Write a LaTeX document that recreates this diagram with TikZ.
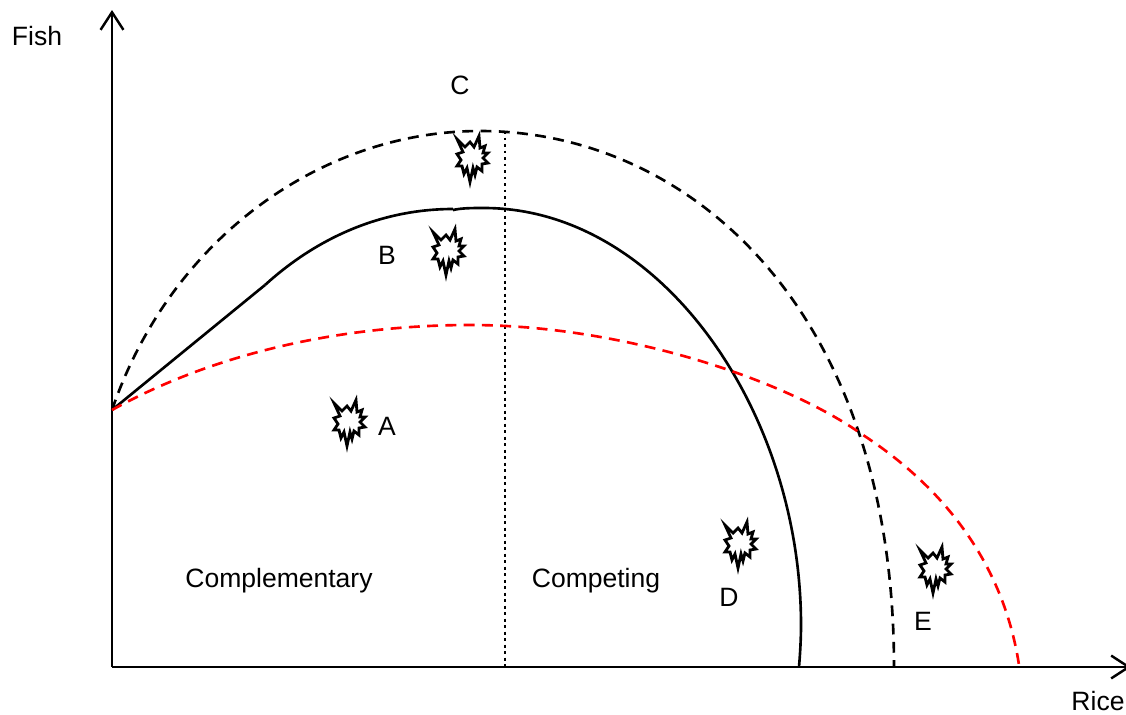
\documentclass[tikz,border=0pt]{standalone}
\usepackage{fontspec}
\setmainfont{Liberation Sans}
\usetikzlibrary{arrows.meta}
\tikzset{
    axis/.style={line width=1.5pt, -{Straight Barb[length=10pt,width=13pt,line width=1.4pt]}},
    curve/.style={line width=1.5pt},
    limit/.style={line width=1.5pt, dash pattern=on 6.2pt off 4.2pt},
    label/.style={font=\fontsize{15.1}{18}\selectfont},
    burst/.pic={
        \draw[line width=1.6pt, fill=white, miter limit=12]
            (-15,-18) -- (-7,-10) -- (-2,-15) -- (2,-10) -- (7,-21) -- (8,-9) -- (13,-11)
            -- (11,-4) -- (16,-4) -- (11,1) -- (16,6) -- (10,7) -- (10,14) -- (5,10)
            -- (3,18) -- (1,11) -- (-2,25) -- (-5,11) -- (-8,17) -- (-10,9) -- (-15,9)
            -- (-11,3) -- (-15,-3) -- (-9,-5) -- cycle;
    }
}
\begin{document}
\begin{tikzpicture}[x=0.02cm, y=-0.02cm]
    \useasboundingbox (0,0) rectangle (1126,714);

    \coordinate (origin) at (112,667);
    \coordinate (fishtip) at (112,10);
    \coordinate (ricetip) at (1131,667);
    \coordinate (start) at (112,410);
    \coordinate (topline) at (505,131);
    \coordinate (foot) at (505,667);

    % Axes
    \draw[axis] (origin) -- (fishtip);
    \draw[axis] (origin) -- (ricetip);

    % Divider between the two zones
    \draw[line width=1.7pt, dotted] (topline) -- (foot);

    % Solid frontier, in three pieces
    \draw[curve] (start) -- (265,285);
    \draw[curve] (265,285) .. controls (320,235) and (385,209) .. (453,209);
    \draw[curve] (453,210) .. controls (462,208) and (472,208) .. (484,208)
        .. controls (660,208) and (801,410) .. (801,625)
        .. controls (801,640) and (800,655) .. (799,667);

    % Dashed frontier
    \draw[limit] (start) .. controls (170,240) and (320,131) .. (480,131)
        .. controls (690,131) and (894,310) .. (894,667);

    % Red frontier
    \draw[limit, red] (start) .. controls (220,350) and (350,325) .. (470,325)
        .. controls (620,325) and (783,378) .. (863,435)
        .. controls (935,482) and (1002,555) .. (1019,665);

    % Bursts
    \pic at (472,157) {burst};
    \pic at (448,250) {burst};
    \pic at (349,421) {burst};
    \pic at (740,543) {burst};
    \pic at (935,568) {burst};

    % Labels
    \node[label] (fish) at (37,36) {Fish};
    \node[label, inner sep=0pt] (rice) at (1098,701) {Rice};
    \node[label] (c) at (460,85) {C};
    \node[label] (b) at (387,255) {B};
    \node[label] (a) at (387,426) {A};
    \node[label] (d) at (729,597) {D};
    \node[label] (e) at (923,621) {E};
    \node[label] (complementary) at (279,581) {Complementary};
    \node[label] (competing) at (596,581) {Competing};
\end{tikzpicture}
\end{document}
